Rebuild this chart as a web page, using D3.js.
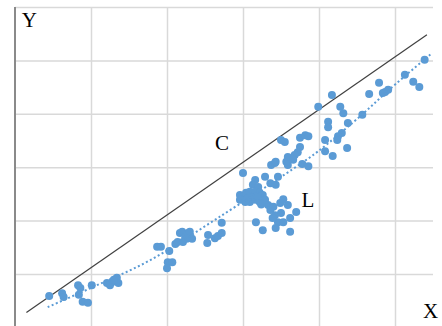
<!DOCTYPE html>
<html>
<head>
<meta charset="utf-8">
<script src="https://cdn.jsdelivr.net/npm/d3@7"></script>
<style>
  html, body { margin: 0; padding: 0; background: #fff; }
  svg { display: block; }
</style>
</head>
<body>
<svg id="chart" width="442" height="326"></svg>
<script>
// Observations (x, y)
const pointX = [
  0.45, 0.62, 0.64, 0.83, 0.86, 1.01, 0.84, 0.89, 0.96, 1.21, 1.28, 1.34, 1.36, 1.25, 1.30,
  1.87, 1.92, 2.03, 2.01, 2.07, 2.00, 2.11, 2.14, 2.17, 2.20, 2.24, 2.28, 2.30, 2.33, 2.21, 2.26,
  2.53, 2.54, 2.63, 2.67, 2.72, 2.72,
  3.00, 3.37, 3.42, 3.59, 3.57, 3.29, 3.36, 3.43, 3.46, 3.16, 3.13, 3.20,
  2.96, 3.00, 3.04, 3.09, 3.16, 3.22, 3.26, 2.96, 3.03, 3.09, 3.16, 3.22, 3.29, 3.13,
  3.33, 3.36, 3.42, 3.49, 3.59, 3.50, 3.62, 3.70, 3.17, 3.46, 3.53, 3.39, 3.26, 3.43, 3.62,
  3.50, 3.55, 3.75, 3.75, 3.72, 3.82, 3.43, 3.59, 3.68,
  4.17, 3.99, 4.28, 4.32, 4.12, 4.12, 4.38, 4.57, 4.30, 4.25, 4.24, 3.86, 4.08, 4.08, 4.18, 4.37, 3.78, 3.86,
  5.39, 5.13, 5.24, 5.32, 4.79, 4.66, 4.87, 4.91, 4.84,
  3.06, 3.19, 3.24, 3.40, 3.53, 3.66
];
const pointY = [
  0.59, 0.64, 0.57, 0.79, 0.74, 0.79, 0.61, 0.48, 0.46, 0.83, 0.85, 0.93, 0.83, 0.79, 0.89,
  1.51, 1.51, 1.43, 1.22, 1.22, 1.11, 1.56, 1.60, 1.77, 1.79, 1.69, 1.77, 1.79, 1.66, 1.60, 1.66,
  1.58, 1.73, 1.67, 1.71, 1.77, 1.96,
  2.89, 3.04, 3.08, 3.04, 3.10, 2.82, 2.70, 2.67, 2.82, 2.76, 2.67, 2.63,
  2.48, 2.44, 2.52, 2.54, 2.54, 2.52, 2.48, 2.39, 2.35, 2.35, 2.39, 2.35, 2.39, 2.44,
  2.29, 2.20, 2.10, 2.33, 2.29, 2.14, 2.05, 2.16, 1.97, 1.97, 1.97, 2.05, 1.82, 1.86, 1.79,
  3.51, 3.47, 3.55, 3.38, 3.28, 3.60, 3.10, 3.19, 3.23,
  4.35, 4.13, 4.13, 4.01, 3.85, 3.75, 3.83, 3.98, 3.64, 3.58, 3.51, 3.58, 3.51, 3.30, 3.21, 3.36, 3.06, 3.02,
  5.01, 4.73, 4.60, 4.50, 4.58, 4.37, 4.41, 4.45, 4.39,
  2.42, 2.46, 2.30, 2.26, 2.40, 3.14
];

// Reference line C
const lineCX = [0.15, 5.42];
const lineCY = [0.28, 5.48];

// Trend curve L
const trendX = [0.43, 1.00, 1.78, 2.67, 3.66, 3.99, 4.57, 4.93, 5.49];
const trendY = [0.38, 0.74, 1.26, 2.05, 2.97, 3.30, 3.99, 4.46, 5.14];

// Axis titles and annotations
const labels = [
  { text: "Y", x: 0.09, y: 5.62 },
  { text: "X", x: 5.37, y: 0.18 },
  { text: "C", x: 2.63, y: 3.32 },
  { text: "L", x: 3.77, y: 2.25 }
];

const xTicks = [1, 2, 3, 4, 5];
const yTicks = [1, 2, 3, 4, 5, 6];

const svg = d3.select("#chart");
const x = d3.scaleLinear().domain([0, 5.5]).range([15, 433]);
const y = d3.scaleLinear().domain([0, 6]).range([327.4, 7]);

const grid = "#d9d9d9";
const blue = "#5b9bd5";

// gridlines
svg.append("g")
  .attr("transform", `translate(0,${y(0)})`)
  .call(d3.axisBottom(x).tickValues(xTicks).tickSize(-(y(0) - y(6))).tickFormat(""))
  .call(g => g.select(".domain").remove())
  .call(g => g.selectAll("line").attr("stroke", grid).attr("stroke-width", 1.5));

svg.append("g")
  .attr("transform", `translate(${x(0)},0)`)
  .call(d3.axisLeft(y).tickValues(yTicks).tickSize(-(x(5.5) - x(0))).tickFormat(""))
  .call(g => g.select(".domain").remove())
  .call(g => g.selectAll("line").attr("stroke", grid).attr("stroke-width", 1.5));

// left axis
svg.append("line")
  .attr("x1", x(0)).attr("x2", x(0))
  .attr("y1", y(6)).attr("y2", y(0))
  .attr("stroke", "#8a8a8a").attr("stroke-width", 2);

// line C
svg.append("line")
  .attr("x1", x(lineCX[0])).attr("y1", y(lineCY[0]))
  .attr("x2", x(lineCX[1])).attr("y2", y(lineCY[1]))
  .attr("stroke", "#404040").attr("stroke-width", 1.2);

// points
const pts = pointX.map((v, i) => [v, pointY[i]]);
svg.append("g").selectAll("circle")
  .data(pts).join("circle")
  .attr("cx", d => x(d[0])).attr("cy", d => y(d[1]))
  .attr("r", 4).attr("fill", blue);

// trend curve L
const trend = trendX.map((v, i) => [v, trendY[i]]);
svg.append("path")
  .datum(trend)
  .attr("d", d3.line().x(d => x(d[0])).y(d => y(d[1])).curve(d3.curveCatmullRom))
  .attr("fill", "none")
  .attr("stroke", blue)
  .attr("stroke-width", 2)
  .attr("stroke-dasharray", "2,2.5");

// text
svg.append("g").selectAll("text")
  .data(labels).join("text")
  .attr("x", d => x(d.x)).attr("y", d => y(d.y))
  .attr("font-family", "'Liberation Serif', 'Times New Roman', serif")
  .attr("font-size", 21)
  .attr("fill", "#000")
  .text(d => d.text);
</script>
</body>
</html>
